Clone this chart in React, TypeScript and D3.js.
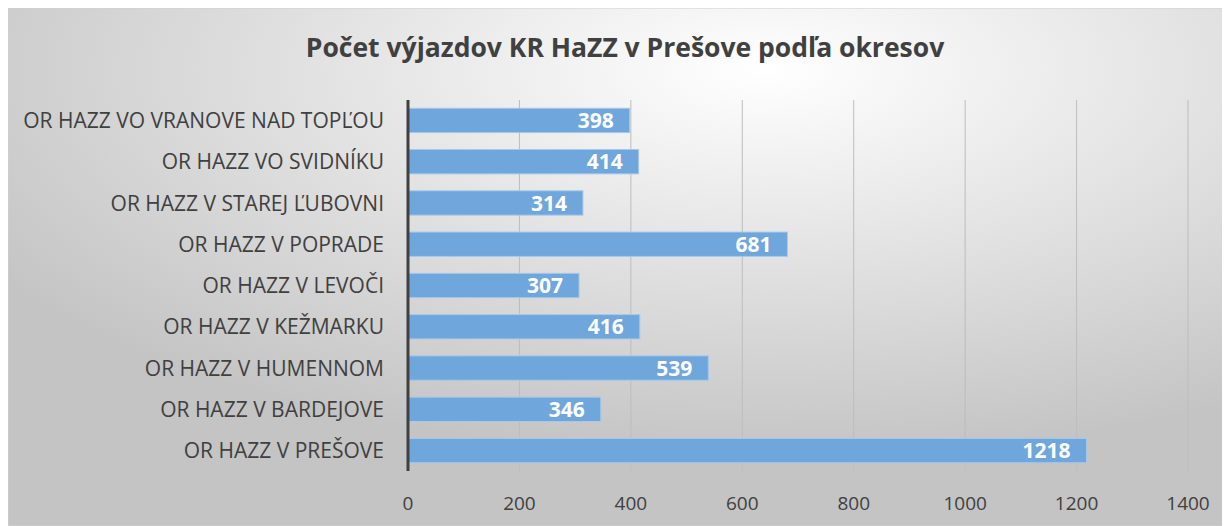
import { scaleBand, scaleLinear } from "d3";

const categories = [
  "OR HAZZ VO VRANOVE NAD TOPĽOU",
  "OR HAZZ VO SVIDNÍKU",
  "OR HAZZ V STAREJ ĽUBOVNI",
  "OR HAZZ V POPRADE",
  "OR HAZZ V LEVOČI",
  "OR HAZZ V KEŽMARKU",
  "OR HAZZ V HUMENNOM",
  "OR HAZZ V BARDEJOVE",
  "OR HAZZ V PREŠOVE",
];
const values = [398, 414, 314, 681, 307, 416, 539, 346, 1218];
const ticks = [0, 200, 400, 600, 800, 1000, 1200, 1400];

export default function App() {
  const width = 1222;
  const height = 518;
  const font = "Open Sans, sans-serif";

  const x = scaleLinear().domain([0, 1400]).range([400, 1180]);
  const y = scaleBand<string>().domain(categories).range([92, 463]).paddingInner(0.41).paddingOuter(0.2);

  return (
    <svg width={width} height={height} style={{ display: "block" }}>
      <defs>
        <radialGradient id="bg" cx="62%" cy="12%" r="75%">
          <stop offset="0%" stopColor="#ffffff" />
          <stop offset="100%" stopColor="#c4c4c4" />
        </radialGradient>
      </defs>
      <rect x={0} y={0} width={width} height={height} fill="url(#bg)" stroke="#d0d0d0" />
      <text x={617} y={49} textAnchor="middle" fontFamily={font} fontWeight="bold" fontSize={26.5} fill="#404040">
        Počet výjazdov KR HaZZ v Prešove podľa okresov
      </text>

      {ticks.slice(1).map((t) => (
        <line key={t} x1={x(t)} x2={x(t)} y1={92} y2={463} stroke="#bdbdbd" strokeWidth={1} />
      ))}

      {categories.map((c, i) => (
        <g key={c}>
          <rect
            x={x(0)}
            y={y(c)}
            width={x(values[i]) - x(0)}
            height={y.bandwidth()}
            fill="#6fa6dc"
            stroke="#a7c9ea"
            strokeWidth={1}
          />
          <text
            x={x(values[i]) - 16}
            y={(y(c) ?? 0) + y.bandwidth() / 2}
            dy="0.36em"
            textAnchor="end"
            fontFamily={font}
            fontWeight="bold"
            fontSize={21}
            fill="#ffffff"
          >
            {values[i]}
          </text>
          <text
            x={376}
            y={(y(c) ?? 0) + y.bandwidth() / 2}
            dy="0.36em"
            textAnchor="end"
            fontFamily={font}
            fontSize={21}
            fill="#404040"
          >
            {c}
          </text>
        </g>
      ))}

      <line x1={x(0)} x2={x(0)} y1={92} y2={463} stroke="#404040" strokeWidth={3} />

      {ticks.map((t) => (
        <text key={t} x={x(t)} y={495} dy="0.36em" textAnchor="middle" fontFamily={font} fontSize={19} fill="#404040">
          {t}
        </text>
      ))}
    </svg>
  );
}
